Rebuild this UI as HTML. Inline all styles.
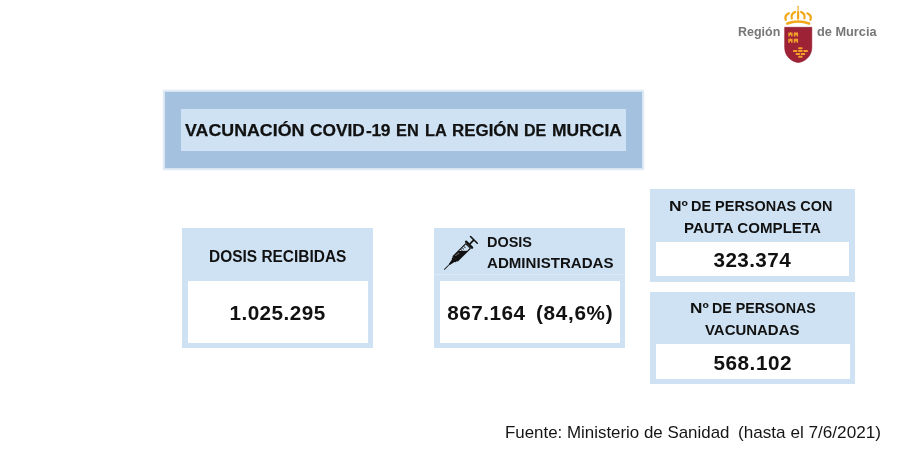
<!DOCTYPE html>
<html lang="es">
<head>
<meta charset="utf-8">
<title>Vacunación COVID-19 en la Región de Murcia</title>
<style>
html,body{margin:0;padding:0;background:#fff;}
body{filter:blur(0.45px);width:900px;height:450px;position:relative;overflow:hidden;font-family:"Liberation Sans",sans-serif;color:#111;}
.abs{position:absolute;}
.x{position:absolute;white-space:nowrap;line-height:30px;color:#111;transform-origin:0 0;}
.title-outer{left:164.7px;top:92.3px;width:477.3px;height:75.5px;background:#a4c2e0;box-shadow:0 0 1.2px 1.7px rgba(164,194,224,.42);}
.title-inner{left:181px;top:109px;width:445px;height:42px;background:#cfe2f3;}
.card{background:#cfe2f3;}
.white{background:#fff;}
</style>
</head>
<body>
<!-- title -->
<div class="abs title-outer"></div>
<div class="abs title-inner"></div>
<div class="x" id="t1" style="left:185.34px;top:114.50px;font-size:17.4px;font-weight:bold;-webkit-text-stroke:0.25px #111;transform:scaleX(1.0239);">VACUNACIÓN</div>
<div class="x" id="t2" style="left:310.35px;top:114.50px;font-size:17.4px;font-weight:bold;-webkit-text-stroke:0.25px #111;transform:scaleX(0.9963);">COVID</div>
<div class="x" id="t2b" style="left:366.12px;top:114.50px;font-size:17.4px;font-weight:bold;-webkit-text-stroke:0.25px #111;letter-spacing:-0.45px;">-19</div>
<div class="x" id="t3" style="left:396.36px;top:114.50px;font-size:17.4px;font-weight:bold;-webkit-text-stroke:0.25px #111;transform:scaleX(0.9393);">EN</div>
<div class="x" id="t4" style="left:424.86px;top:114.50px;font-size:17.4px;font-weight:bold;-webkit-text-stroke:0.25px #111;transform:scaleX(0.9395);">LA</div>
<div class="x" id="t5" style="left:451.73px;top:114.50px;font-size:17.4px;font-weight:bold;-webkit-text-stroke:0.25px #111;transform:scaleX(0.9729);">REGIÓN</div>
<div class="x" id="t6" style="left:524.08px;top:114.50px;font-size:17.4px;font-weight:bold;-webkit-text-stroke:0.25px #111;transform:scaleX(0.92);">DE</div>
<div class="x" id="t7" style="left:551.80px;top:114.50px;font-size:17.4px;font-weight:bold;-webkit-text-stroke:0.25px #111;transform:scaleX(1.0044);">MURCIA</div>

<!-- card 1: dosis recibidas -->
<div class="abs card" style="left:182px;top:228.3px;width:191.2px;height:120px;"></div>
<div class="abs white" style="left:187.8px;top:281.3px;width:180px;height:61.6px;"></div>
<div class="x" id="c1h" style="left:209.01px;top:242.30px;font-size:15.6px;font-weight:bold;transform:scaleX(0.9912);">DOSIS RECIBIDAS</div>
<div class="x" id="c1v" style="left:229.45px;top:298.40px;font-size:20.7px;font-weight:bold;letter-spacing:0.47px;">1.025.295</div>

<!-- card 2: dosis administradas -->
<div class="abs card" style="left:434.2px;top:228px;width:190.6px;height:120px;"></div>
<div class="abs white" style="left:439.6px;top:281.3px;width:180.2px;height:61.4px;"></div>
<div class="abs" style="left:434.2px;top:274.4px;width:190.6px;height:1.1px;background:rgba(255,255,255,.28);"></div>
<svg class="abs" style="left:434px;top:228px;" width="60" height="52" viewBox="434 228 60 52">
  <g transform="translate(444.2 269.6) rotate(-45)" fill="#111" stroke="none">
    <rect x="0" y="-0.4" width="9" height="0.8"/>
    <polygon points="7.2,-0.6 12.6,-1.7 13.4,-2.7 15.4,-2.7 15.4,3 13.4,3 12.6,2 7.2,0.7"/>
    <rect x="15" y="-3.7" width="19" height="7.7" rx="0.7"/>
    <polygon points="23.6,-2.6 33,-2.6 33,2.9 29.6,2.9" fill="#cfe2f3"/>
    <rect x="25.6" y="-2.8" width="0.7" height="2.6"/>
    <rect x="27.8" y="-2.8" width="0.7" height="2.6"/>
    <rect x="30" y="-2.8" width="0.7" height="2.6"/>
    <rect x="17.5" y="-1.9" width="5" height="0.7" fill="#777" transform="rotate(8 20 -1.5)"/>
    <rect x="34" y="-5.4" width="2.4" height="10.7" rx="1.1"/>
    <rect x="36" y="-0.85" width="6" height="1.7"/>
    <rect x="41.2" y="-5.5" width="1.6" height="11" rx="0.7"/>
  </g>
</svg>
<div class="x" id="c2h1" style="left:486.84px;top:226.50px;font-size:15.0px;font-weight:bold;transform:scaleX(0.9644);">DOSIS</div>
<div class="x" id="c2h2" style="left:486.50px;top:247.70px;font-size:15.0px;font-weight:bold;transform:scaleX(1.006);">ADMINISTRADAS</div>
<div class="x" id="c2va" style="left:447.25px;top:298.30px;font-size:20.7px;font-weight:bold;letter-spacing:0.5px;">867.164</div>
<div class="x" id="c2vb" style="left:536.05px;top:298.30px;font-size:20.7px;font-weight:bold;letter-spacing:0.68px;">(84,6%)</div>

<!-- card 3: pauta completa -->
<div class="abs card" style="left:650.3px;top:189px;width:204.7px;height:93px;"></div>
<div class="abs white" style="left:655.6px;top:241.7px;width:193.7px;height:34.5px;"></div>
<div class="x" id="c3h1a" style="left:668.64px;top:191.40px;font-size:15.0px;font-weight:bold;transform:scaleX(1.16);">Nº</div>
<div class="x" id="c3h1" style="left:690.74px;top:191.40px;font-size:15.0px;font-weight:bold;transform:scaleX(0.9637);">DE PERSONAS CON</div>
<div class="x" id="c3h2" style="left:684.29px;top:212.50px;font-size:15.0px;font-weight:bold;transform:scaleX(1.0059);">PAUTA COMPLETA</div>
<div class="x" id="c3v" style="left:713.48px;top:244.90px;font-size:20.7px;font-weight:bold;letter-spacing:0.41px;">323.374</div>

<!-- card 4: personas vacunadas -->
<div class="abs card" style="left:650.2px;top:291.7px;width:204.8px;height:92.7px;"></div>
<div class="abs white" style="left:655.5px;top:343.7px;width:194px;height:35.3px;"></div>
<div class="x" id="c4h1a" style="left:689.65px;top:293.40px;font-size:15.0px;font-weight:bold;transform:scaleX(1.1467);">Nº</div>
<div class="x" id="c4h1" style="left:711.85px;top:293.40px;font-size:15.0px;font-weight:bold;transform:scaleX(0.9507);">DE PERSONAS</div>
<div class="x" id="c4h2" style="left:705.45px;top:314.70px;font-size:15.0px;font-weight:bold;transform:scaleX(0.9968);">VACUNADAS</div>
<div class="x" id="c4v" style="left:713.38px;top:347.70px;font-size:20.7px;font-weight:bold;letter-spacing:0.56px;">568.102</div>

<!-- footer -->
<div class="x" id="foot1" style="left:504.75px;top:417.70px;font-size:15.7px;color:#151515;transform:scaleX(1.0768);">Fuente: Ministerio de Sanidad</div>
<div class="x" id="foot2" style="left:738.21px;top:417.70px;font-size:15.7px;color:#151515;transform:scaleX(1.0928);">(hasta el 7/6/2021)</div>

<!-- logo -->
<div class="x" id="lg1" style="left:737.57px;top:17.00px;font-size:12.9px;font-weight:bold;color:#777777;transform:scaleX(0.968);">Región</div>
<div class="x" id="lg2" style="left:816.61px;top:17.00px;font-size:12.9px;font-weight:bold;color:#777777;transform:scaleX(0.9891);">de Murcia</div>
<svg class="abs" style="left:780px;top:0px;" width="40" height="70" viewBox="780 0 40 70">
  <g fill="none" stroke="#f3a71a" stroke-linecap="round">
    <path d="M787.3 23.5 Q798.2 19.5 809.1 23.5" stroke-width="2.6"/>
    <path d="M798.1 11.7 V18.6" stroke-width="2.2"/>
    <path d="M798.1 6.2 V8" stroke-width="1.1"/>
    <circle cx="798.1" cy="9.4" r="0.8" fill="#f3a71a" stroke="none"/>
    <path d="M795.1 12 Q790.7 14 791.8 18.4" stroke-width="2.2"/>
    <path d="M801.1 12 Q805.5 14 804.4 18.4" stroke-width="2.2"/>
    <path d="M788.9 13.3 Q784.1 15.6 785.8 19.9" stroke-width="2.2"/>
    <path d="M807.3 13.3 Q812.1 15.6 810.4 19.9" stroke-width="2.2"/>
  </g>
  <path d="M784.7 27.3 H811.8 V47.5 C811.8 56 805.5 61.5 798.2 62.6 C791 61.5 784.7 56 784.7 47.5 Z" fill="#9e2235" stroke="#8f1226" stroke-width="0.6"/>
  <g fill="#f2a02c">
    <path d="M788.30 36.60 L788.30 33.30 L788.80 32.00 L789.50 33.10 L790.45 31.80 L791.40 33.10 L792.10 32.00 L792.60 33.30 L792.60 36.60 L791.10 36.60 L791.10 35.40 L790.45 34.80 L789.80 35.40 L789.80 36.60 Z"/>
    <path d="M793.80 36.60 L793.80 33.30 L794.30 32.00 L795.00 33.10 L795.95 31.80 L796.90 33.10 L797.60 32.00 L798.10 33.30 L798.10 36.60 L796.60 36.60 L796.60 35.40 L795.95 34.80 L795.30 35.40 L795.30 36.60 Z"/>
    <path d="M788.30 42.80 L788.30 39.50 L788.80 38.20 L789.50 39.30 L790.45 38.00 L791.40 39.30 L792.10 38.20 L792.60 39.50 L792.60 42.80 L791.10 42.80 L791.10 41.60 L790.45 41.00 L789.80 41.60 L789.80 42.80 Z"/>
    <path d="M793.80 42.80 L793.80 39.50 L794.30 38.20 L795.00 39.30 L795.95 38.00 L796.90 39.30 L797.60 38.20 L798.10 39.50 L798.10 42.80 L796.60 42.80 L796.60 41.60 L795.95 41.00 L795.30 41.60 L795.30 42.80 Z"/>
  </g>
  <g fill="#f2a02c">
    <rect x="798.2" y="47.3" width="4.3" height="2" rx="0.4"/>
    <rect x="793" y="50.1" width="4.3" height="2" rx="0.4"/>
    <rect x="798.2" y="50.1" width="4.3" height="2" rx="0.4"/>
    <rect x="803.5" y="50.1" width="4.3" height="2" rx="0.4"/>
    <rect x="795.7" y="52.9" width="4.3" height="2" rx="0.4"/>
    <rect x="800.8" y="52.9" width="4.3" height="2" rx="0.4"/>
    <rect x="798.2" y="55.7" width="4.3" height="2" rx="0.4"/>
  </g>
</svg>
</body>
</html>
